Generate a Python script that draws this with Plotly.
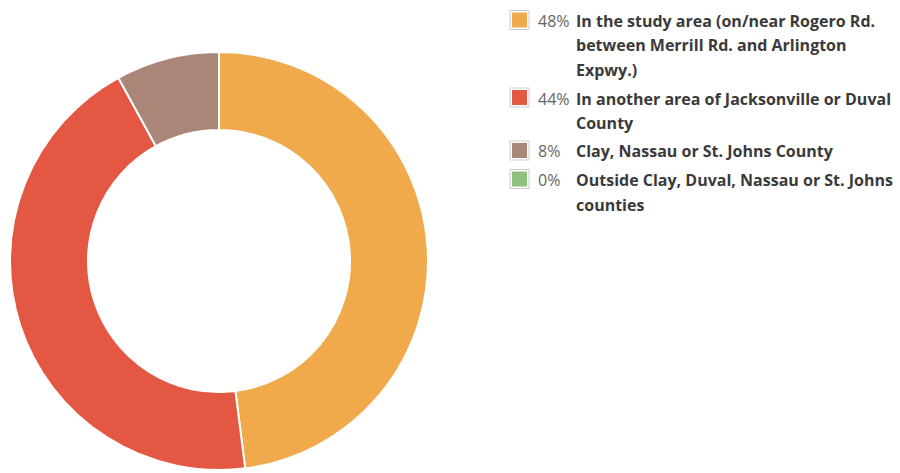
import plotly.graph_objects as go

# Survey responses: where respondents live
categories = [
    "In the study area (on/near Rogero Rd.<br>between Merrill Rd. and Arlington<br>Expwy.)",
    "In another area of Jacksonville or Duval<br>County",
    "Clay, Nassau or St. Johns County",
    "Outside Clay, Duval, Nassau or St. Johns<br>counties",
]
values = [48, 44, 8, 0]
colors = ["#F0AA4C", "#E45742", "#AA8678", "#8DC17C"]

W, H = 900, 473


def px_x(x):
    return x / W


def px_y(y):
    return 1 - y / H


fig = go.Figure()
fig.add_trace(go.Pie(
    labels=[c.replace("<br>", " ") for c in categories],
    values=values,
    hole=0.627,
    sort=False,
    direction="clockwise",
    rotation=0,
    textinfo="none",
    marker=dict(colors=colors, line=dict(color="#FFFFFF", width=2)),
    domain=dict(x=[px_x(10), px_x(428)], y=[px_y(470), px_y(52)]),
    showlegend=False,
))

# Custom legend: swatch, percentage, bold wrapped label
total = sum(values)
annotations = []
shapes = []
line_h = 24.5
y = 21
for cat, val, col in zip(categories, values, colors):
    sy = y - 1
    shapes.append(dict(type="rect", xref="paper", yref="paper",
                       x0=px_x(510), x1=px_x(529), y0=px_y(sy + 9.5), y1=px_y(sy - 9.5),
                       line=dict(color="#CCCCCC", width=1), fillcolor="#FFFFFF"))
    shapes.append(dict(type="rect", xref="paper", yref="paper",
                       x0=px_x(512), x1=px_x(527), y0=px_y(sy + 7.5), y1=px_y(sy - 7.5),
                       line=dict(width=0), fillcolor=col))
    pct = round(100 * val / total)
    annotations.append(dict(x=px_x(536), y=px_y(y), xref="paper", yref="paper",
                            text=f"{pct}%", showarrow=False, xanchor="left", yanchor="middle",
                            font=dict(family="Open Sans", size=16, color="#666666")))
    for i, ln in enumerate(cat.split("<br>")):
        annotations.append(dict(x=px_x(574), y=px_y(y + i * line_h), xref="paper", yref="paper",
                                text=f"<b>{ln}</b>", showarrow=False, xanchor="left", yanchor="middle",
                                font=dict(family="Open Sans", size=16, color="#3A3A3A")))
    y += len(cat.split("<br>")) * line_h + 4

fig.update_layout(
    width=W, height=H,
    margin=dict(l=0, r=0, t=0, b=0),
    paper_bgcolor="#FFFFFF",
    plot_bgcolor="#FFFFFF",
    annotations=annotations,
    shapes=shapes,
)

fig.write_html("out.html")
